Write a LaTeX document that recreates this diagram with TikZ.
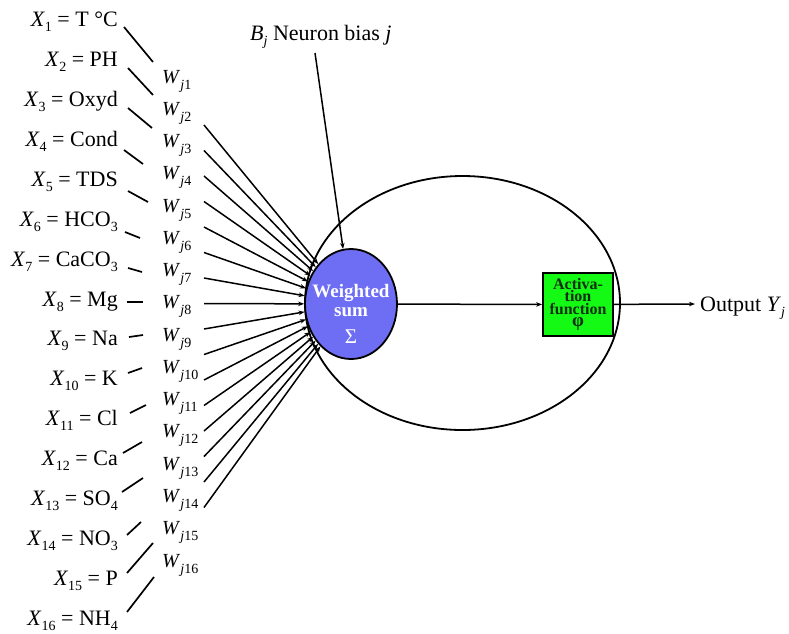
\documentclass[tikz,border=0pt]{standalone}
\usepackage{fontspec}
\setmainfont{Liberation Serif}
\usetikzlibrary{shapes.geometric,arrows.meta}
\definecolor{sumblue}{RGB}{110,110,245}
\definecolor{actgreen}{RGB}{20,250,20}
\definecolor{acttext}{RGB}{15,45,15}
\newcommand\lsub[1]{\raisebox{-0.27em}{\fontsize{14}{14}\selectfont #1}}
\newcommand\wsub[1]{\raisebox{-0.3em}{\fontsize{14}{14}\selectfont #1}}
\newcommand\bigphi{\fontsize{19}{12.5}\selectfont φ}
\begin{document}
\begin{tikzpicture}[x=1pt,y=-1pt,
  xlab/.style={anchor=base east, inner sep=0pt, font=\fontsize{22}{26}\selectfont},
  wlab/.style={anchor=base west, inner sep=0pt, font=\fontsize{20}{24}\selectfont},
  plain/.style={anchor=base west, inner sep=0pt, font=\fontsize{22}{26}\selectfont},
  tick/.style={line width=1.7pt},
  feed/.style={line width=1.5pt, -{Stealth[length=6pt,width=4.5pt]}},
  sumtext/.style={anchor=base, inner sep=0pt, text=white, font=\bfseries\fontsize{19}{21}\selectfont},
  acttxt/.style={anchor=north, inner sep=0pt, align=center, text=acttext,
     font=\bfseries\fontsize{16}{12.5}\selectfont}]
\useasboundingbox (0,0) rectangle (789,633);

% outer neuron cell
\node[draw, ellipse, minimum width=315pt, minimum height=254pt, line width=1.8pt, inner sep=0pt] (cell) at (462.5,303) {};

% weighted sum
\node[draw, ellipse, fill=sumblue, minimum width=92pt, minimum height=110pt, line width=1.8pt, inner sep=0pt] (sum) at (351,304) {};
\node[sumtext] (sw) at (351,297) {Weighted};
\node[sumtext] (ss) at (351,316) {sum};
\node[sumtext, font=\fontsize{21}{23}\selectfont] (sg) at (351,343) {Σ};

% activation function
\node[draw, fill=actgreen, minimum width=70pt, minimum height=63pt, line width=1.8pt, inner sep=0pt] (act) at (578,304.5) {};
\node[acttxt] (atext) at (578,278) {Activa-\\tion\\function\\\bigphi};

% inputs
\node[xlab] (x1) at (118,26) {\textit{X}\lsub{1} = T °C};
\node[xlab] (x2) at (118,66) {\textit{X}\lsub{2} = PH};
\node[xlab] (x3) at (118,106) {\textit{X}\lsub{3} = Oxyd};
\node[xlab] (x4) at (118,146) {\textit{X}\lsub{4} = Cond};
\node[xlab] (x5) at (118,186) {\textit{X}\lsub{5} = TDS};
\node[xlab] (x6) at (118,226) {\textit{X}\lsub{6} = HCO\lsub{3}};
\node[xlab] (x7) at (118,266) {\textit{X}\lsub{7} = CaCO\lsub{3}};
\node[xlab] (x8) at (118,306) {\textit{X}\lsub{8} = Mg};
\node[xlab] (x9) at (118,345) {\textit{X}\lsub{9} = Na};
\node[xlab] (x10) at (118,385) {\textit{X}\lsub{10} = K};
\node[xlab] (x11) at (118,425) {\textit{X}\lsub{11} = Cl};
\node[xlab] (x12) at (118,465) {\textit{X}\lsub{12} = Ca};
\node[xlab] (x13) at (118,505) {\textit{X}\lsub{13} = SO\lsub{4}};
\node[xlab] (x14) at (118,545) {\textit{X}\lsub{14} = NO\lsub{3}};
\node[xlab] (x15) at (118,585) {\textit{X}\lsub{15} = P};
\node[xlab] (x16) at (118,625) {\textit{X}\lsub{16} = NH\lsub{4}};

% weights
\foreach \k in {1,...,16} {
  \node[wlab] (w\k) at (162,{83+32.27*(\k-1)}) {\textit{W}\wsub{\textit{j}\k}};
}

% short strokes from inputs towards weights
\foreach \i/\ax/\ay/\bx/\by in {1/124/27/153/62, 2/128/68/153/95, 3/128/108/152/128, 4/124/150/143/164,
  5/128/191/148/202, 6/125/232/140/238, 7/128/268/142/272, 8/127/302/143/302,
  9/129/337/143/335, 10/128/373/142/368, 11/130/413/146/405, 12/123/453/142/442,
  13/122/492/143/478, 14/127/535/141/522, 15/127/573/153/543, 16/127/612/154/577} {
  \coordinate (p\i) at (\ax,\ay);
  \coordinate (q\i) at (\bx,\by);
  \draw[tick] (p\i) -- (q\i);
}

% weighted lines into the sum
\foreach \k in {0,...,15} {
  \coordinate (s\k) at (204,{125+25.5*\k});
  \draw[feed] (s\k) -- (sum);
}

% bias
\node[plain] (bias) at (250,40) {\textit{B}\lsub{\textit{j}} Neuron bias \textit{j}};
\coordinate (bstart) at (315,53);
\draw[feed] (bstart) -- (sum);

% sum -> activation -> output
\draw[feed] (sum) -- (act);
\coordinate (outp) at (695,304);
\draw[feed] (act) -- (outp);
\node[plain] (outl) at (700,311) {Output \textit{Y}\lsub{\textit{j}}};
\end{tikzpicture}
\end{document}
